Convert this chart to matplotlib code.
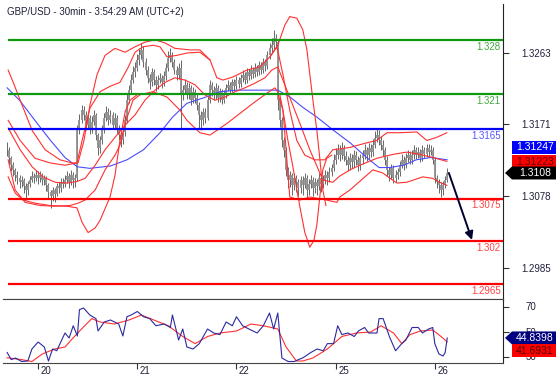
import numpy as np
import matplotlib.pyplot as plt
from matplotlib.patches import Polygon

plt.rcParams['font.family'] = ['Liberation Sans', 'DejaVu Sans']

# ---------------------------------------------------------------------------
# Data (prices stored as pips above 1.3000, 30-minute bars)
# ---------------------------------------------------------------------------
close_pips = [138, 127, 118, 112, 105, 101, 96, 99, 91, 86, 94, 99, 104, 101, 106, 101, 105, 99, 101, 92,
              83, 78, 86, 81, 91, 88, 96, 94, 99, 104, 96, 105, 99, 101, 163, 176, 189, 183, 170, 179,
              163, 174, 183, 157, 140, 150, 163, 179, 187, 176, 183, 170, 179, 166, 157, 150, 161, 176, 202, 215,
              228, 238, 244, 254, 260, 267, 251, 241, 231, 225, 238, 228, 222, 228, 231, 225, 233, 244, 257, 260,
              251, 241, 235, 244, 209, 215, 222, 209, 218, 202, 213, 205, 196, 183, 176, 187, 179, 202, 222, 215,
              209, 218, 205, 213, 202, 209, 218, 222, 215, 225, 220, 228, 223, 231, 235, 228, 238, 233, 241, 236,
              244, 238, 247, 241, 251, 246, 260, 269, 273, 282, 277, 202, 176, 150, 138, 112, 99, 105, 92, 101,
              96, 88, 99, 92, 101, 86, 94, 99, 88, 96, 91, 101, 94, 99, 105, 101, 109, 114, 125, 131,
              138, 131, 140, 130, 125, 118, 127, 122, 131, 125, 118, 127, 131, 138, 131, 140, 135, 144, 153, 157,
              150, 144, 138, 125, 112, 105, 114, 101, 105, 109, 118, 125, 118, 127, 131, 125, 131, 138, 131, 135,
              127, 138, 132, 140, 135, 138, 125, 101, 96, 92, 86, 92, 99, 108]
high_pips = [148, 142, 130, 122, 115, 110, 106, 104, 102, 95, 98, 104, 110, 108, 112, 110, 111, 108, 106, 104,
             95, 86, 90, 89, 95, 96, 101, 102, 106, 110, 108, 112, 109, 107, 170, 184, 196, 195, 188, 186,
             183, 181, 190, 186, 160, 156, 170, 186, 195, 192, 190, 187, 185, 183, 170, 162, 167, 183, 210, 222,
             236, 246, 252, 262, 270, 276, 272, 256, 246, 236, 244, 242, 233, 234, 237, 235, 240, 250, 266, 269,
             264, 255, 246, 250, 254, 222, 230, 226, 224, 222, 219, 217, 210, 200, 188, 192, 192, 208, 228, 226,
             220, 224, 222, 218, 216, 215, 223, 228, 226, 230, 229, 233, 232, 236, 241, 239, 243, 242, 247, 245,
             250, 248, 253, 251, 257, 255, 266, 276, 282, 293, 288, 280, 206, 180, 154, 142, 116, 110, 108, 108,
             106, 100, 104, 104, 108, 106, 100, 106, 103, 102, 100, 108, 106, 105, 112, 110, 116, 120, 132, 140,
             146, 144, 148, 144, 136, 130, 134, 132, 138, 136, 130, 133, 138, 145, 142, 147, 146, 152, 162, 166,
             164, 156, 150, 142, 130, 116, 120, 118, 112, 115, 124, 132, 130, 134, 138, 136, 138, 144, 142, 141,
             139, 144, 142, 146, 145, 144, 142, 128, 106, 100, 96, 98, 104, 114]
low_pips = [130, 120, 110, 104, 98, 94, 88, 90, 82, 73, 80, 90, 96, 95, 97, 94, 96, 92, 93, 85,
            74, 63, 72, 70, 78, 82, 84, 88, 90, 95, 88, 92, 88, 90, 97, 158, 172, 176, 164, 165,
            158, 160, 170, 150, 131, 134, 146, 160, 175, 170, 172, 165, 166, 160, 150, 142, 145, 156, 172, 198,
            210, 224, 232, 240, 248, 255, 245, 234, 224, 216, 220, 222, 214, 217, 224, 218, 220, 228, 240, 252,
            245, 236, 228, 230, 166, 202, 210, 203, 204, 196, 198, 198, 190, 166, 164, 170, 172, 176, 198, 208,
            202, 204, 200, 200, 197, 198, 205, 214, 210, 212, 214, 216, 218, 219, 226, 223, 224, 228, 229, 231,
            232, 233, 234, 236, 237, 240, 242, 255, 264, 268, 270, 189, 168, 142, 128, 104, 88, 90, 80, 86,
            84, 78, 82, 80, 88, 77, 80, 88, 78, 82, 80, 86, 84, 88, 94, 92, 96, 104, 110, 120,
            126, 124, 126, 124, 118, 110, 112, 114, 116, 118, 110, 112, 120, 126, 124, 126, 128, 130, 140, 148,
            144, 138, 130, 118, 104, 98, 100, 95, 96, 100, 104, 114, 112, 114, 122, 120, 120, 126, 126, 127,
            122, 124, 127, 128, 130, 131, 120, 95, 88, 82, 77, 80, 88, 96]

# long moving average (blue)
ma_long_idx = [0, 6, 14, 21, 28, 34, 40, 50, 58, 66, 74, 80, 87, 95, 103, 111, 122, 131, 137, 143,
               150, 158, 166, 174, 180, 185, 192, 198, 205, 213]
ma_long_pips = [218, 202, 174, 150, 128, 116, 114, 117, 125, 138, 160, 180, 198, 205, 213, 215, 215, 215, 206, 193,
                180, 163, 147, 128, 115, 115, 118, 125, 128, 125]

# red moving average (middle band)
mid_idx = [0.5, 6.3, 12.1, 17.4, 23.2, 29, 33.8, 37.7, 42.6, 47.4, 52.2, 57.1, 61.9, 66.7, 71.6, 76.4, 81.2, 86.1,
           90.9, 95.7, 100.6, 105.4, 110.3, 115.1, 119.9, 124.8, 128.1, 131, 135.4, 141.7, 146.5, 152.8, 157.6,
           161, 165.9, 170.7, 178.9, 186.7, 193.4, 199.7, 206, 212.8]
mid_pips = [166, 138, 116, 103, 96, 95, 97, 101, 118, 138, 154, 170, 183, 202, 215, 225, 231, 228,
            222, 209, 202, 206, 213, 218, 224, 231, 241, 245, 215, 172, 138, 99, 96,
            104, 112, 118, 127, 132, 135, 132, 128, 123]

# upper band
up_idx = [0.5, 6.3, 13.5, 20.8, 28, 33.8, 36.3, 40.1, 45, 49.8, 54.6, 58.5, 61.9, 65.8, 70.6, 74, 77.4, 82.2,
          87, 93.3, 98.2, 101.5, 104.4, 109.3, 116.1, 122.3, 127.2, 130.6, 133.5, 136.8, 140.2, 144.1, 148.9,
          153.8, 157.6, 165.9, 174.1, 178.9, 183.8, 190, 198.3, 203.1, 207.9, 212.8]
up_pips = [176, 150, 127, 121, 118, 121, 150, 192, 213, 220, 225, 244, 264, 271, 273, 271, 258, 260,
           263, 264, 254, 231, 228, 232, 241, 245, 258, 271, 235, 189, 150, 131, 125,
           125, 138, 141, 147, 150, 160, 160, 161, 150, 154, 160]

# lower band
lo_idx = [0.5, 3.9, 8.7, 16, 23.2, 30.5, 34.3, 37.7, 42.6, 47.4, 52.2, 54.6, 57.6, 60.9, 64.3, 70.6, 77.4, 83.7,
          87, 93.3, 98.2, 101.5, 106.4, 112.7, 119, 125.7, 129.6, 132, 133.5, 135.4, 136.8, 141.7, 146.5,
          154.7, 159.6, 161, 165.9, 177, 181.8, 188.6, 193.4, 201.2, 206, 209.4, 212.8]
lo_pips = [125, 86, 70, 66, 65, 66, 69, 73, 86, 112, 131, 144, 176, 202, 209, 213, 206, 189,
           176, 160, 157, 163, 172, 185, 198, 211, 218, 209, 189, 125, 77, 73, 77,
           73, 70, 77, 86, 112, 108, 95, 96, 103, 101, 96, 92]

# wide envelope: the parts where it leaves the bands above
env_up1_idx = [0.5, 3.4, 6.3, 12.1, 18.4, 25.6, 31.4, 34.3, 37.2, 40.1, 43.5, 47.4, 52.2, 57.1, 61.9, 66.7,
               71.6, 76.4, 81.2, 88.5, 93.3, 98.2]
env_up1_pips = [241, 222, 202, 163, 138, 125, 121, 121, 150, 196, 235, 260, 269, 264, 271, 277,
                280, 276, 269, 267, 267, 254]
env_up2_idx = [127.2, 131, 134.4, 136.8, 140.2, 143.1, 145.1, 148, 149.9, 151.4, 152.8, 154.3]
env_up2_pips = [258, 273, 299, 310, 308, 293, 267, 202, 163, 125, 86, 66]
env_lo1_idx = [0.5, 3.9, 7.7, 13.5, 20.8, 29, 33.8, 36.3, 39.2, 42.6, 45, 49.8, 52.2, 54.6, 57.1, 59.5, 62.9]
env_lo1_pips = [103, 82, 73, 69, 66, 65, 63, 44, 31, 37, 47, 77, 105, 150, 187, 202, 209]
env_lo2_idx = [131, 133.5, 135.9, 138.3, 141.7, 144.1, 146.5, 148.5, 149.9, 151.4, 152.8, 154.7, 157.1]
env_lo2_pips = [211, 189, 150, 116, 64, 31, 12, 21, 41, 79, 112, 127, 131]

# RSI(14) and its 9-period MA
rsi_idx = [0, 2, 4, 7, 10, 12, 15, 18, 20, 22, 24, 28, 30, 32, 34, 35, 37, 40, 43, 44,
           47, 50, 54, 56, 58, 60, 63, 66, 69, 72, 76, 79, 80, 83, 85, 87, 90, 93, 97, 100,
           103, 106, 109, 111, 114, 117, 121, 124, 127, 129, 131, 133, 136, 139, 141, 143, 147, 150, 153, 155,
           158, 160, 162, 165, 168, 170, 173, 175, 179, 180, 182, 185, 188, 191, 193, 196, 199, 201, 204, 206,
           207, 209, 211, 212, 213]
rsi_vals = [33.2, 27.5, 28.8, 26.0, 26.4, 36.0, 41.6, 37.6, 26.4, 36.0, 34.6, 48.8, 44.8, 54.6, 46.4, 67.5, 68.8, 63.2, 60.3, 50.4,
            57.6, 59.2, 56.0, 46.4, 61.8, 63.2, 66.0, 61.8, 60.3, 54.6, 56.0, 53.2, 63.2, 43.2, 52.0, 37.6, 36.0, 40.3, 52.0, 48.8,
            47.5, 57.6, 54.6, 61.8, 54.6, 52.0, 48.8, 54.6, 64.8, 52.0, 64.8, 28.8, 26.0, 26.0, 27.5, 28.8, 33.2, 36.0, 34.6, 40.3,
            40.3, 54.6, 47.5, 48.8, 46.0, 50.4, 53.2, 48.8, 48.8, 60.3, 60.3, 46.0, 34.6, 40.3, 43.2, 53.2, 53.2, 48.8, 52.0, 53.2,
            40.3, 32.0, 30.4, 33.2, 44.8]
rsi_ma_idx = [0, 7, 12, 17, 23, 28, 31, 36, 41, 45, 52, 59, 65, 71, 78, 85, 91, 97, 103, 111,
              118, 124, 131, 135, 140, 143, 148, 155, 162, 169, 176, 181, 187, 191, 195, 200, 206, 210, 213]
rsi_ma_vals = [29.0, 27.5, 26.0, 32.0, 36.0, 37.6, 43.2, 52.0, 60.3, 57.6, 56.0, 59.2, 63.2, 59.2, 54.6, 46.0, 40.3, 46.0, 48.8, 50.4,
               56.0, 54.6, 52.0, 37.6, 26.4, 26.4, 28.8, 36.0, 46.0, 48.8, 49.6, 54.6, 48.8, 40.3, 47.5, 50.4, 51.2, 46.0, 41.7]

levels = [1.328, 1.321, 1.3165, 1.3075, 1.302, 1.2965]
level_labels = ['1.328', '1.321', '1.3165', '1.3075', '1.302', '1.2965']
level_colors = ['#109910', '#109910', '#0000ff', '#ff0000', '#ff0000', '#ff0000']
level_text_colors = ['#40a840', '#40a840', '#5555ff', '#ff4040', '#ff4040', '#ff4040']

price_ticks = [1.2985, 1.3078, 1.3171, 1.3263]
rsi_ticks = [30, 50, 70]
day_idx = [15, 63, 111, 159, 207]
day_labels = ['20', '21', '22', '25', '26']


def px(p):
    return 1.3 + np.asarray(p, dtype=float) / 1e4


# ---------------------------------------------------------------------------
# Figure
# ---------------------------------------------------------------------------
W, H = 557, 377
fig = plt.figure(figsize=(W / 100, H / 100), dpi=100)
ax = fig.add_axes([3 / W, 1 - 299 / H, 500 / W, 295 / H])
ax2 = fig.add_axes([3 / W, 1 - 363 / H, 500 / W, 64 / H])

XMIN, XMAX = -2, 240
txt = '#20203a'
band_red = '#ff3030'

# --- price panel ---
closes = px(close_pips)
highs = px(high_pips)
lows = px(low_pips)
opens = np.concatenate([[closes[0]], closes[:-1]])
n = len(closes)
xi = np.arange(n)
ax.vlines(xi, lows, highs, color='#2a2a2a', lw=0.5, zorder=3)
ax.vlines(xi, np.minimum(opens, closes), np.maximum(opens, closes), color='#909090', lw=1.3, zorder=4)

ax.plot(ma_long_idx, px(ma_long_pips), color='#4a4aff', lw=0.8, zorder=5)
for bx, by in [(mid_idx, mid_pips), (up_idx, up_pips), (lo_idx, lo_pips),
               (env_up1_idx, env_up1_pips), (env_up2_idx, env_up2_pips),
               (env_lo1_idx, env_lo1_pips), (env_lo2_idx, env_lo2_pips)]:
    ax.plot(bx, px(by), color=band_red, lw=0.8, zorder=5)

for lv, lab, c, tc in zip(levels, level_labels, level_colors, level_text_colors):
    ax.hlines(lv, 0.5, XMAX, color=c, lw=1.6, zorder=6)
    ax.text(XMAX - 1, lv - 0.00025, lab, color=tc, fontsize=7, ha='right', va='top', zorder=7)

ax.annotate('', xy=(225, 1.30215), xytext=(213.8, 1.3108),
            arrowprops=dict(arrowstyle='-|>', color='#000033', lw=1.4,
                            mutation_scale=12, shrinkA=0, shrinkB=0), zorder=8)

ax.set_xlim(XMIN, XMAX)
ax.set_ylim(1.29452, 1.33263)
ax.set_xticks([])
ax.yaxis.tick_right()
ax.set_yticks(price_ticks)
ax.set_yticklabels(['%.4f' % t for t in price_ticks])
ax.tick_params(axis='y', direction='out', length=4, width=0.8, colors='#333333',
               labelcolor=txt, labelsize=7, pad=9)
for s in ['top', 'left']:
    ax.spines[s].set_visible(False)
ax.spines['right'].set_color('#222222')
ax.spines['bottom'].set_color('#444444')
ax.patch.set_alpha(0)

fig.text(7 / W, 1 - 12 / H, 'GBP/USD - 30min - 3:54:29 AM (UTC+2)', fontsize=7, color=txt, va='center')

# --- RSI panel ---
ax2.plot(rsi_ma_idx, rsi_ma_vals, color=band_red, lw=0.8)
ax2.plot(rsi_idx, rsi_vals, color='#2a2aa0', lw=0.8)
ax2.set_xlim(XMIN, XMAX)
ax2.set_ylim(24.8, 76)
ax2.yaxis.tick_right()
ax2.set_yticks(rsi_ticks)
ax2.set_yticklabels([str(t) for t in rsi_ticks])
ax2.tick_params(axis='y', direction='out', length=4, width=0.8, colors='#333333',
                labelcolor=txt, labelsize=7, pad=12)
ax2.set_xticks(day_idx)
ax2.set_xticklabels([])
ax2.tick_params(axis='x', direction='out', length=4, width=0.8, colors='#333333')
for d, lab in zip(day_idx, day_labels):
    ax2.text(d + 1.2, -0.04, lab, transform=ax2.get_xaxis_transform(), fontsize=7, color=txt,
             ha='left', va='top')
ax2.spines['left'].set_visible(False)
for s in ['top', 'bottom', 'right']:
    ax2.spines[s].set_color('#444444')
ax2.spines['right'].set_color('#222222')
ax2.text(2, 0.93, 'RSI14 - 9MA', transform=ax2.transAxes, fontsize=7, color=txt, va='top')


# --- value tags on the right ---
def tag(axis, yval, label, face, tcolor, arrow=False, yshift=0):
    fy = fig.transFigure.inverted().transform(axis.transData.transform((0, yval)))[1]
    fy += yshift / H
    h = 13 / H
    x0, x1, tip = 512 / W, 556 / W, 505 / W
    if arrow:
        pts = [(tip, fy), (x0, fy + h / 2), (x1, fy + h / 2), (x1, fy - h / 2), (x0, fy - h / 2)]
    else:
        pts = [(x0, fy + h / 2), (x1, fy + h / 2), (x1, fy - h / 2), (x0, fy - h / 2)]
    fig.patches.append(Polygon(pts, closed=True, transform=fig.transFigure, facecolor=face,
                               edgecolor='none', zorder=10))
    fig.text((x0 + x1) / 2 + 1 / W, fy, label, fontsize=7.5, color=tcolor, ha='center',
             va='center', zorder=11)


tag(ax, 1.31247, '1.31247', '#0000ff', 'white', yshift=13)
tag(ax, 1.31223, '1.31223', '#ff0000', '#600000', yshift=0)
tag(ax, 1.3108, '1.3108', '#000000', 'white', arrow=True)
tag(ax2, 44.8398, '44.8398', '#000080', 'white', arrow=True)
tag(ax2, 41.6931, '41.6931', '#ff0000', '#500000', yshift=-9)

fig.savefig('out.png', dpi=100)
